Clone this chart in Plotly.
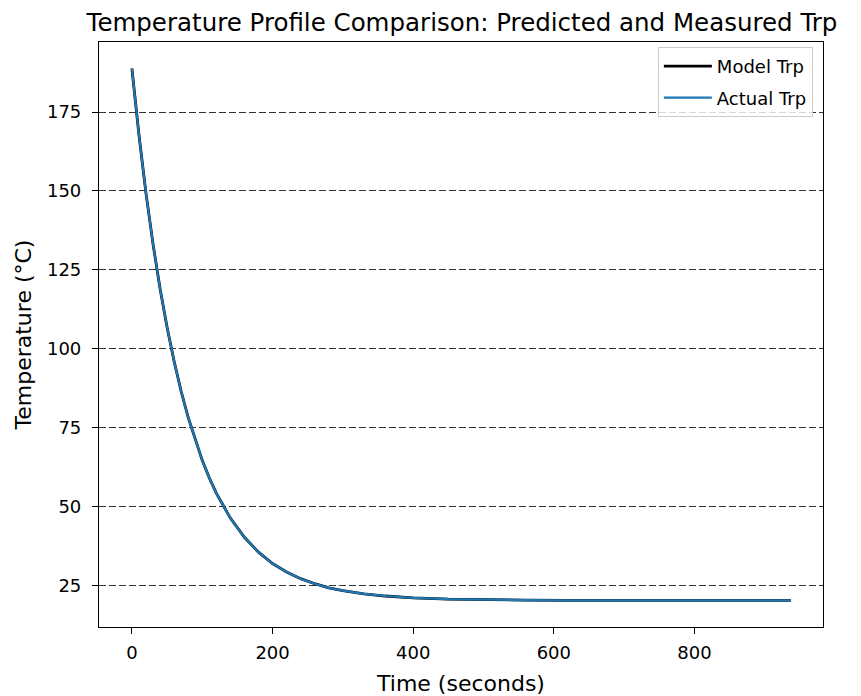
import plotly.graph_objects as go

# Time (seconds) and temperature (°C)
time_s = [0, 10, 20, 30, 40, 50, 60, 70, 80, 90, 100, 110, 120, 140, 160, 180,
          200, 220, 240, 260, 280, 300, 330, 360, 400, 450, 500, 560, 620, 700,
          800, 937]
model_trp = [188.8, 167.8, 149.3, 133.2, 119.1, 106.8, 96.0, 86.5, 78.2, 71.0,
             64.6, 59.1, 54.2, 46.3, 40.2, 35.5, 31.9, 29.2, 27.1, 25.5, 24.2,
             23.3, 22.3, 21.6, 21.0, 20.6, 20.4, 20.3, 20.25, 20.2, 20.2, 20.2]
actual_trp = [188.8, 167.8, 149.3, 133.2, 119.1, 106.8, 96.0, 86.5, 78.2, 71.0,
              64.6, 59.1, 54.2, 46.3, 40.2, 35.5, 31.9, 29.2, 27.1, 25.5, 24.2,
              23.3, 22.3, 21.6, 21.0, 20.6, 20.4, 20.3, 20.25, 20.2, 20.2, 20.2]

x_ticks = [0, 200, 400, 600, 800]
y_ticks = [25, 50, 75, 100, 125, 150, 175]

FONT = "DejaVu Sans"

# page body has an 8px margin, so the figure is sized to fit the 861x696 window
W, H = 853, 688

fig = go.Figure()
fig.add_trace(go.Scatter(x=time_s, y=model_trp, mode="lines", name="Model Trp",
                         legendgroup="m",
                         line=dict(color="black", width=2.8)))
fig.add_trace(go.Scatter(x=time_s, y=actual_trp, mode="lines", name="Actual Trp",
                         legendgroup="a",
                         line=dict(color="#1f77b4", width=2.2)))

fig.update_layout(
    width=W, height=H,
    margin=dict(l=91, r=38, t=34, b=69),
    paper_bgcolor="white", plot_bgcolor="white",
    font=dict(family=FONT, size=18, color="black"),
    title=dict(text="Temperature Profile Comparison: Predicted and Measured Trp",
               x=454 / W, xanchor="center", y=1 - 14 / H, yanchor="middle",
               font=dict(family=FONT, size=24.5, color="black")),
    showlegend=True,
    legend=dict(x=0.986, xanchor="right", y=0.9915, yanchor="top",
                traceorder="grouped", tracegroupgap=5, itemwidth=48,
                bgcolor="rgba(255,255,255,0.8)", bordercolor="#cccccc",
                borderwidth=1, font=dict(family=FONT, size=18, color="black")),
)

fig.update_xaxes(
    range=[-46.8, 982.8], tickvals=x_ticks, ticktext=[str(v) for v in x_ticks],
    showgrid=False, zeroline=False, automargin=False,
    showline=True, linecolor="black", linewidth=1.2, mirror=True,
    ticks="outside", ticklen=6, tickwidth=1.2, tickcolor="black",
    ticklabelstandoff=3,
    tickfont=dict(family=FONT, size=18),
    title=dict(text="Time (seconds)", standoff=13, font=dict(family=FONT, size=22)),
)
fig.update_yaxes(
    range=[11.78, 197.2], tickvals=y_ticks, ticktext=[str(v) for v in y_ticks],
    showgrid=True, gridcolor="rgba(0,0,0,0.8)", gridwidth=1.2, griddash="7px,3px",
    zeroline=False, automargin=False,
    showline=True, linecolor="black", linewidth=1.2, mirror=True,
    ticks="outside", ticklen=6, tickwidth=1.2, tickcolor="black",
    ticklabelstandoff=7,
    tickfont=dict(family=FONT, size=18),
    title=dict(text="Temperature (°C)", standoff=9, font=dict(family=FONT, size=22)),
)

fig.write_html("out.html")
